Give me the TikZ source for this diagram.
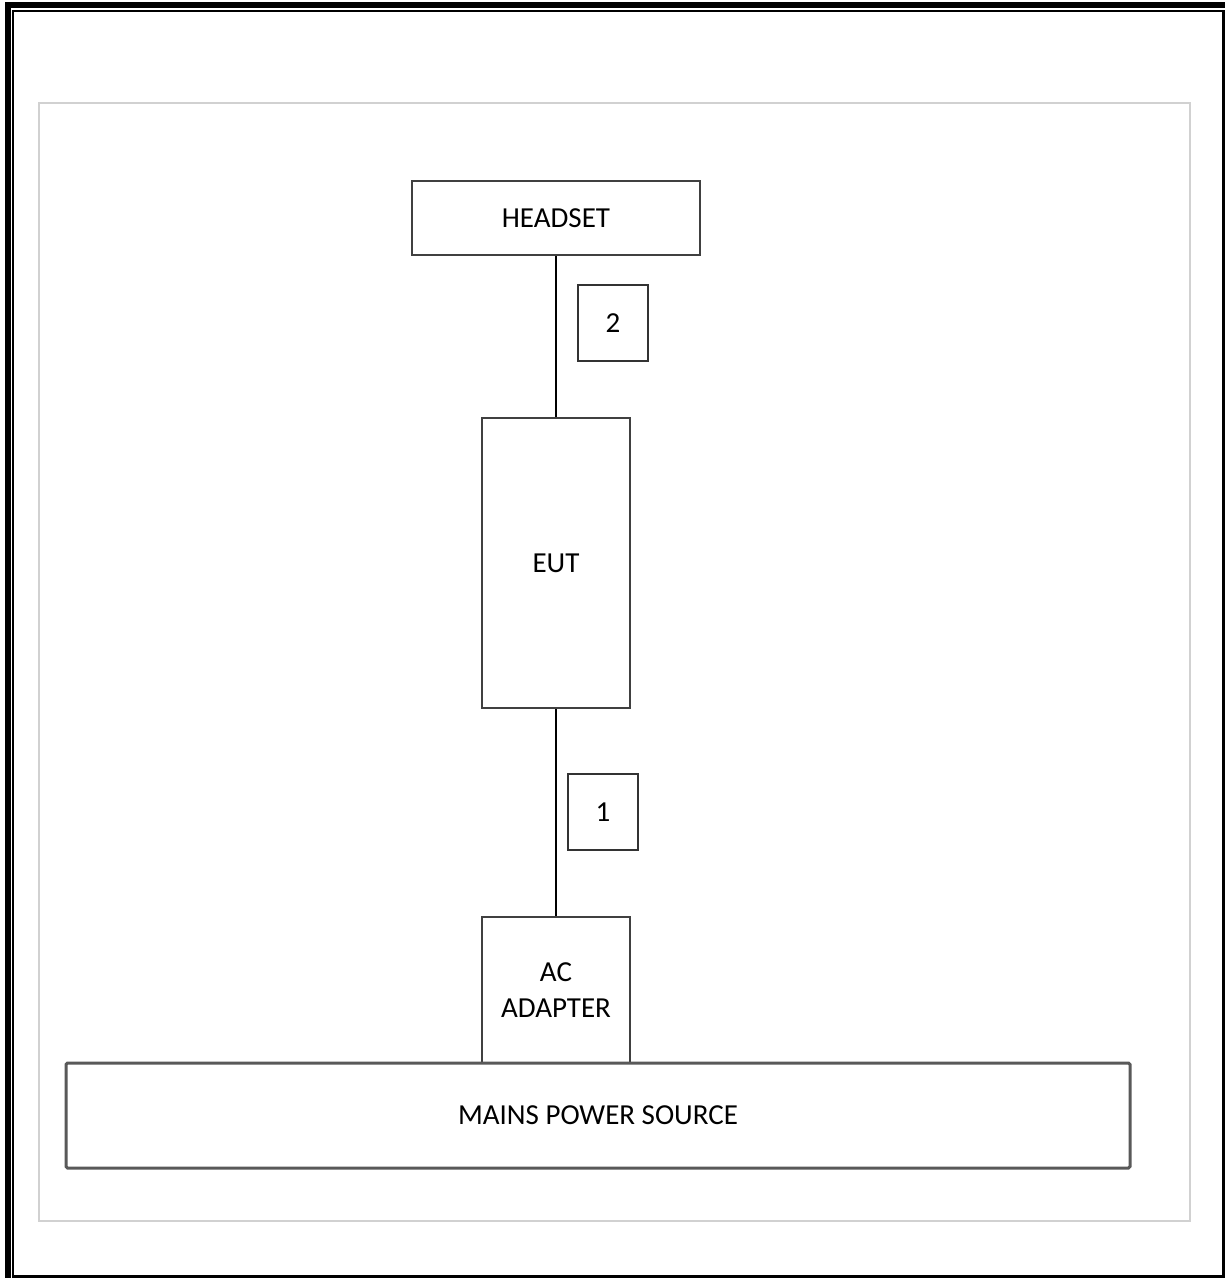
\documentclass[tikz,border=0pt]{standalone}
\usepackage{fontspec}
\setmainfont{Carlito}
\begin{document}
\begin{tikzpicture}[x=1pt,y=-1pt,
  blk/.style={draw=black!75,line width=2pt,fill=white,inner sep=0pt,font=\fontsize{29}{36}\selectfont,align=center},
  lbl/.style={draw=black!80,line width=2pt,fill=white,inner sep=0pt,font=\fontsize{29}{36}\selectfont},
  wire/.style={draw=black,line width=2pt}]
\useasboundingbox (0,0) rectangle (1225,1278);
% page frame
\draw[line width=6pt] (8,1278) -- (8,5) -- (1225,5);
\draw[line width=2.5pt] (13,1278) -- (13,11) -- (1223.5,11) -- (1223.5,1278);
\draw[line width=2.5pt] (13,1276.5) -- (1225,1276.5);
% canvas
\draw[black!18,line width=2pt] (39,103) rectangle (1190,1221);
% blocks
\node[blk,minimum width=288pt,minimum height=74pt] (headset) at (556,218) {HEADSET};
\node[blk,minimum width=148pt,minimum height=290pt] (eut) at (556,563) {EUT};
\node[blk,minimum width=148pt,minimum height=147pt] (ac) at (556,990.5) {AC\\ADAPTER};
\node[blk,rounded corners=1.5pt,draw=black!65,line width=3pt,minimum width=1064pt,minimum height=105pt] (mains) at (598,1115.5) {MAINS POWER SOURCE};
% cables
\draw[wire] (headset.south) -- (eut.north);
\draw[wire] (eut.south) -- (ac.north);
% cable labels
\node[lbl,minimum width=70pt,minimum height=76pt] (l2) at (613,323) {2};
\node[lbl,minimum width=70pt,minimum height=76pt] (l1) at (603,812) {1};
\end{tikzpicture}
\end{document}
